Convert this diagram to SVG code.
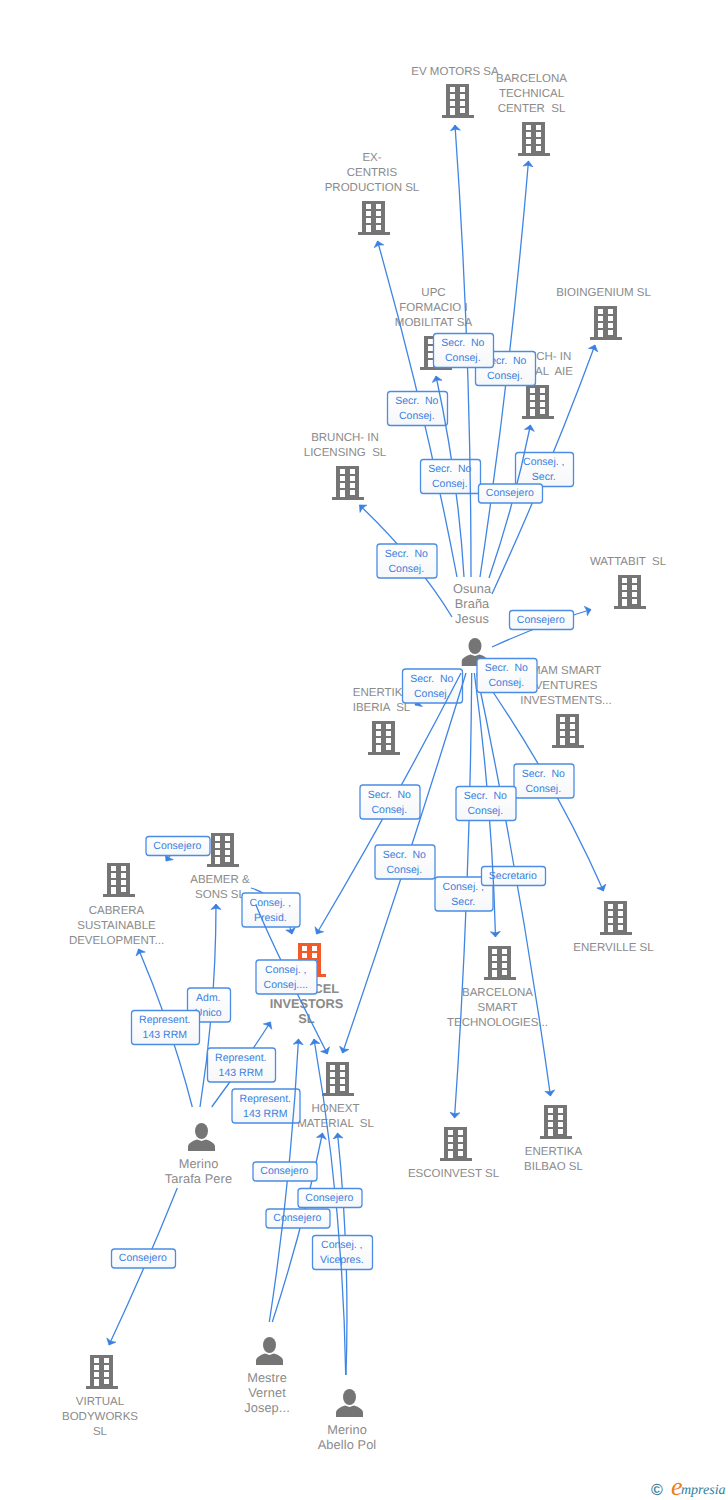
<svg xmlns="http://www.w3.org/2000/svg" width="728" height="1500" viewBox="0 0 728 1500">
<style>
text{font-family:"Liberation Sans",Arial,sans-serif;white-space:pre;text-rendering:geometricPrecision}
.n{font-size:11.5px;fill:#8a8a8a;text-anchor:middle}
.p{font-size:12.8px;letter-spacing:.1px}
.b{font-weight:bold;font-size:12.8px}
.l{font-size:10.5px;fill:#3a7fe0;text-anchor:middle;transform:translate(-.7px,-.6px)}
.e{fill:none;stroke:#3f85e4;stroke-width:1.3;marker-end:url(#a)}
.r{fill:url(#g);stroke:#4a8ce6;stroke-width:1.3}
.i{fill:#757575}
</style>
<defs>
<linearGradient id="g" x1="0" y1="0" x2="0" y2="1"><stop offset="0" stop-color="#fff"/><stop offset="1" stop-color="#f6f7f9"/></linearGradient>
<marker id="a" markerUnits="userSpaceOnUse" markerWidth="9" markerHeight="14" refX="6" refY="7" orient="auto" viewBox="0 0 9 14"><path d="M6,7L0.500,2L1.800,7L0.500,12z" fill="#3a80e2" stroke="#3a80e2" stroke-width=".6" stroke-linejoin="round"/></marker>
<symbol id="bd" width="32" height="34" viewBox="0 0 32 34"><path fill-rule="evenodd" d="M4,0H27V31H32V34H0V31H4ZM8,3V8H13V3ZM18,3V8H23V3ZM8,10V15H13V10ZM18,10V15H23V10ZM8,17V22H13V17ZM18,17V22H23V17ZM8,24V31H13V24ZM18,24V29H23V24Z"/></symbol>
<symbol id="pr" width="27" height="28" viewBox="0 0 27 28"><ellipse cx="13.5" cy="8" rx="6.5" ry="8"/><path d="M0,28V23Q1,19 9,16.5L13.5,18L18,16.5Q26,19 27,23V28Z"/></symbol>
</defs>
<g id="nodes">
<g id="n-ev-motors"><use href="#bd" x="442" y="84" class="i"/><text class="n" x="455" y="75">EV MOTORS SA</text></g>
<g id="n-barcelona-technical"><use href="#bd" x="518" y="122" class="i"/><text class="n" x="531.5" y="82">BARCELONA</text><text class="n" x="531.5" y="97">TECHNICAL</text><text class="n" x="531.5" y="112">CENTER  SL</text></g>
<g id="n-ex-centris"><use href="#bd" x="358" y="201" class="i"/><text class="n" x="372" y="161">EX-</text><text class="n" x="372" y="176">CENTRIS</text><text class="n" x="372" y="191">PRODUCTION SL</text></g>
<g id="n-upc"><use href="#bd" x="420" y="336" class="i"/><text class="n" x="433.5" y="296">UPC</text><text class="n" x="433.5" y="311">FORMACIO I</text><text class="n" x="433.5" y="326">MOBILITAT SA</text></g>
<g id="n-bioingenium"><use href="#bd" x="590" y="306" class="i"/><text class="n" x="603.5" y="296">BIOINGENIUM SL</text></g>
<g id="n-brunch-capital"><use href="#bd" x="522" y="385" class="i"/><text class="n" x="537.500" y="360">BRUNCH- IN</text><text class="n" x="537.500" y="375">CAPITAL  AIE</text></g>
<g id="n-brunch-licensing"><use href="#bd" x="332" y="466" class="i"/><text class="n" x="345" y="441">BRUNCH- IN</text><text class="n" x="345" y="456">LICENSING  SL</text></g>
<g id="n-wattabit"><use href="#bd" x="614" y="575" class="i"/><text class="n" x="628" y="565">WATTABIT  SL</text></g>
<g id="n-osuna"><use href="#pr" x="461.500" y="638" class="i"/><text class="n p" x="472" y="593">Osuna</text><text class="n p" x="472" y="608">Braña</text><text class="n p" x="472" y="623">Jesus</text></g>
<g id="n-enertika-iberia"><use href="#bd" x="368" y="721" class="i"/><text class="n" x="381.500" y="696">ENERTIKA</text><text class="n" x="381.500" y="711">IBERIA  SL</text></g>
<g id="n-mam"><use href="#bd" x="552" y="714" class="i"/><text class="n" x="566" y="674">MAM SMART</text><text class="n" x="566" y="689">VENTURES</text><text class="n" x="566" y="704">INVESTMENTS...</text></g>
<g id="n-enerville"><use href="#bd" x="600" y="901" class="i"/><text class="n" x="613.5" y="951">ENERVILLE SL</text></g>
<g id="n-barcelona-smart"><use href="#bd" x="484" y="946" class="i"/><text class="n" x="497.5" y="996">BARCELONA</text><text class="n" x="497.5" y="1011">SMART</text><text class="n" x="497.5" y="1026">TECHNOLOGIES...</text></g>
<g id="n-escoinvest"><use href="#bd" x="440" y="1127" class="i"/><text class="n" x="453.5" y="1177">ESCOINVEST SL</text></g>
<g id="n-enertika-bilbao"><use href="#bd" x="540" y="1105" class="i"/><text class="n" x="553.5" y="1155">ENERTIKA</text><text class="n" x="553.5" y="1170">BILBAO SL</text></g>
<g id="n-honext"><use href="#bd" x="322" y="1062" class="i"/><text class="n" x="335.5" y="1112">HONEXT</text><text class="n" x="335.5" y="1127">MATERIAL  SL</text></g>
<g id="n-abemer"><use href="#bd" x="207" y="833" class="i"/><text class="n" x="220" y="883">ABEMER &amp;</text><text class="n" x="220" y="898">SONS SL</text></g>
<g id="n-cabrera"><use href="#bd" x="103" y="863" class="i"/><text class="n" x="116.500" y="914">CABRERA</text><text class="n" x="116.500" y="929">SUSTAINABLE</text><text class="n" x="116.500" y="944">DEVELOPMENT...</text></g>
<g id="n-investors"><use href="#bd" x="294" y="943" fill="#f4592a"/><text class="n b" x="339" y="993" style="text-anchor:end">CEL</text><text class="n b" x="306.500" y="1008">INVESTORS</text><text class="n b" x="306.500" y="1023">SL</text></g>
<g id="n-merino-tarafa"><use href="#pr" x="188" y="1123" class="i"/><text class="n p" x="198.500" y="1168">Merino</text><text class="n p" x="198.500" y="1183">Tarafa Pere</text></g>
<g id="n-virtual"><use href="#bd" x="86" y="1355" class="i"/><text class="n" x="100" y="1405">VIRTUAL</text><text class="n" x="100" y="1420">BODYWORKS</text><text class="n" x="100" y="1435">SL</text></g>
<g id="n-mestre"><use href="#pr" x="256" y="1337" class="i"/><text class="n p" x="267" y="1382">Mestre</text><text class="n p" x="267" y="1397">Vernet</text><text class="n p" x="267" y="1412">Josep...</text></g>
<g id="n-merino-abello"><use href="#pr" x="336" y="1389" class="i"/><text class="n p" x="347" y="1434">Merino</text><text class="n p" x="347" y="1449">Abello Pol</text></g>
</g>
<g id="connectors">
<path class="e" d="M457,577Q425,409 377.500,241"/>
<rect class="r" x="387.500" y="391.500" width="60" height="34" rx="3"/><text class="l" x="417.500" y="405">Secr.  No</text><text class="l" x="417.500" y="420">Consej.</text>
<path class="e" d="M464,577Q458,477 436,376"/>
<rect class="r" x="420.500" y="459.500" width="60" height="34" rx="3"/><text class="l" x="450.500" y="473">Secr.  No</text><text class="l" x="450.500" y="488">Consej.</text>
<path class="e" d="M480,577Q511,370 528.500,161"/>
<rect class="r" x="475.500" y="351.500" width="60" height="34" rx="3"/><text class="l" x="505.500" y="365">Secr.  No</text><text class="l" x="505.500" y="380">Consej.</text>
<path class="e" d="M471,577Q471,351 455,125"/>
<rect class="r" x="433.500" y="333.500" width="60" height="34" rx="3"/><text class="l" x="463.500" y="347">Secr.  No</text><text class="l" x="463.500" y="362">Consej.</text>
<path class="e" d="M492,594Q549,470 595,345"/>
<rect class="r" x="515.500" y="452.500" width="58" height="34" rx="3"/><text class="l" x="544.500" y="466">Consej. ,</text><text class="l" x="544.500" y="481">Secr.</text>
<path class="e" d="M489,578Q515,502 530.500,425"/>
<rect class="r" x="478.500" y="484" width="64" height="19" rx="3"/><text class="l" x="510.500" y="497">Consejero</text>
<path class="e" d="M452,617Q418,561 359.500,505"/>
<rect class="r" x="377" y="544" width="60" height="34" rx="3"/><text class="l" x="407" y="557.500">Secr.  No</text><text class="l" x="407" y="572.500">Consej.</text>
<path class="e" d="M492,647Q541,624.500 591,609.500"/>
<rect class="r" x="509.500" y="610.500" width="64" height="19" rx="3"/><text class="l" x="541.500" y="623.500">Consejero</text>
<path class="e" d="M432,695L415,705"/>
<rect class="r" x="402.500" y="669" width="60" height="34" rx="3"/><text class="l" x="432.500" y="682.500">Secr.  No</text><text class="l" x="432.500" y="697.500">Consej.</text>
<path class="e" d="M461,673Q394,803 316.500,934"/>
<rect class="r" x="360" y="785" width="60" height="34" rx="3"/><text class="l" x="390" y="798.500">Secr.  No</text><text class="l" x="390" y="813.500">Consej.</text>
<path class="e" d="M466,673Q408,862 342.500,1053"/>
<rect class="r" x="375" y="845" width="60" height="34" rx="3"/><text class="l" x="405" y="858.500">Secr.  No</text><text class="l" x="405" y="873.500">Consej.</text>
<path class="e" d="M480,673Q555,781 603.500,891"/>
<rect class="r" x="514" y="764" width="60" height="34" rx="3"/><text class="l" x="544" y="777.500">Secr.  No</text><text class="l" x="544" y="792.500">Consej.</text>
<path class="e" d="M471.700,673Q470,895 454.500,1118"/>
<rect class="r" x="435" y="877" width="58" height="34" rx="3"/><text class="l" x="464" y="890.500">Consej. ,</text><text class="l" x="464" y="905.500">Secr.</text>
<path class="e" d="M476.700,673Q521,884 550.500,1096"/>
<rect class="r" x="481.500" y="866.500" width="64" height="19" rx="3"/><text class="l" x="513.500" y="879.500">Secretario</text>
<path class="e" d="M474.300,673Q492,804 495.500,937"/>
<rect class="r" x="456" y="786.500" width="60" height="34" rx="3"/><text class="l" x="486" y="800">Secr.  No</text><text class="l" x="486" y="815">Consej.</text>
<rect class="r" x="477" y="658.500" width="60" height="34" rx="3"/><text class="l" x="507" y="672">Secr.  No</text><text class="l" x="507" y="687">Consej.</text>
<path class="e" d="M172,853L166,861"/>
<rect class="r" x="146" y="836.500" width="64" height="19" rx="3"/><text class="l" x="178" y="849.500">Consejero</text>
<path class="e" d="M251,888Q282,897 292,934"/>
<rect class="r" x="242" y="893" width="58" height="34" rx="3"/><text class="l" x="271" y="906.500">Consej. ,</text><text class="l" x="271" y="921.500">Presid.</text>
<path class="e" d="M256,905Q272,945 327.500,1054"/>
<rect class="r" x="256" y="960" width="61" height="34" rx="3"/><text class="l" x="286.500" y="973.500">Consej. ,</text><text class="l" x="286.500" y="988.500">Consej....</text>
<path class="e" d="M200,1107Q216,1006 216,904"/>
<rect class="r" x="187.500" y="988" width="43" height="34" rx="3"/><text class="l" x="209" y="1001.500">Adm.</text><text class="l" x="209" y="1016.500">Unico</text>
<path class="e" d="M192.300,1107Q172,1028 138.500,949"/>
<rect class="r" x="131.500" y="1010.500" width="68" height="34" rx="3"/><text class="l" x="165.500" y="1024">Represent.</text><text class="l" x="165.500" y="1039">143 RRM</text>
<path class="e" d="M211.700,1107Q243,1065 270.500,1022"/>
<rect class="r" x="207.500" y="1048" width="68" height="34" rx="3"/><text class="l" x="241.500" y="1061.500">Represent.</text><text class="l" x="241.500" y="1076.500">143 RRM</text>
<rect class="r" x="232" y="1089" width="68" height="34" rx="3"/><text class="l" x="266" y="1102.500">Represent.</text><text class="l" x="266" y="1117.500">143 RRM</text>
<path class="e" d="M177.300,1188Q146,1266 109,1345"/>
<rect class="r" x="111.500" y="1249" width="64" height="19" rx="3"/><text class="l" x="143.500" y="1262">Consejero</text>
<path class="e" d="M272.300,1322Q303,1228 322.500,1133"/>
<rect class="r" x="266" y="1209" width="64" height="19" rx="3"/><text class="l" x="298" y="1222">Consejero</text>
<path class="e" d="M269.300,1322Q291,1181 298.500,1039"/>
<rect class="r" x="253" y="1162" width="64" height="19" rx="3"/><text class="l" x="285" y="1175">Consejero</text>
<path class="e" d="M346,1375Q350,1253 337.500,1133"/>
<rect class="r" x="312.500" y="1235.500" width="60" height="34" rx="3"/><text class="l" x="342.500" y="1249">Consej. ,</text><text class="l" x="342.500" y="1264">Vicepres.</text>
<path class="e" d="M345.700,1375Q343,1206 314,1039"/>
<rect class="r" x="298" y="1188.500" width="64" height="19" rx="3"/><text class="l" x="330" y="1201.500">Consejero</text>
</g>
<g id="logo">
<text x="657" y="1494.500" font-size="16" font-weight="bold" fill="#3f7f9f" text-anchor="middle">©</text>
<text x="671" y="1495" font-size="26" font-style="italic" fill="#ee7d1a" style="font-family:'Liberation Serif',serif">e</text>
<text x="681" y="1494" font-size="14" font-style="italic" fill="#2f7e9e" style="font-family:'Liberation Serif',serif">mpresia</text>
</g>
</svg>
